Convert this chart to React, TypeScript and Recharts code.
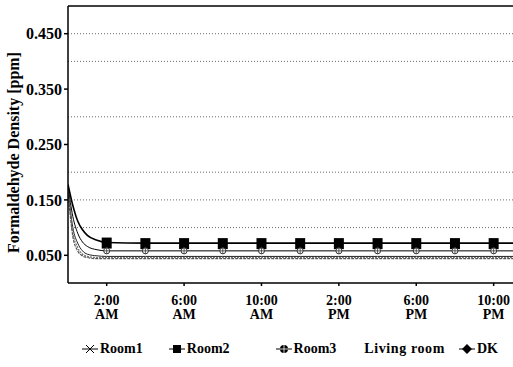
import React from "react";
import {
  LineChart,
  Line,
  XAxis,
  YAxis,
  CartesianGrid,
  ReferenceLine,
  Legend,
} from "recharts";

// hours after midnight
const hours = [0, 0.25, 0.5, 0.75, 1, 1.5, 2, 4, 6, 8, 10, 12, 14, 16, 18, 20, 22, 23];

const room1 = [0.17, 0.1, 0.072, 0.058, 0.052, 0.049, 0.048, 0.048, 0.048, 0.048, 0.048, 0.048, 0.048, 0.048, 0.048, 0.048, 0.048, 0.048];
const room2 = [0.178, 0.14, 0.112, 0.096, 0.086, 0.077, 0.073, 0.072, 0.072, 0.072, 0.072, 0.072, 0.072, 0.072, 0.072, 0.072, 0.072, 0.072];
const room3 = [0.175, 0.12, 0.09, 0.074, 0.066, 0.06, 0.058, 0.058, 0.058, 0.058, 0.058, 0.058, 0.058, 0.058, 0.058, 0.058, 0.058, 0.058];
const livingRoom = [0.168, 0.092, 0.064, 0.052, 0.048, 0.046, 0.046, 0.046, 0.046, 0.046, 0.046, 0.046, 0.046, 0.046, 0.046, 0.046, 0.046, 0.046];
const dk = [0.164, 0.084, 0.058, 0.049, 0.046, 0.044, 0.044, 0.044, 0.044, 0.044, 0.044, 0.044, 0.044, 0.044, 0.044, 0.044, 0.044, 0.044];

const markerHours = [2, 4, 6, 8, 10, 12, 14, 16, 18, 20, 22];
const xTicks = [2, 6, 10, 14, 18, 22];
const xTickLabels = [
  ["2:00", "AM"],
  ["6:00", "AM"],
  ["10:00", "AM"],
  ["2:00", "PM"],
  ["6:00", "PM"],
  ["10:00", "PM"],
];
const yTicks = [0.05, 0.15, 0.25, 0.35, 0.45];
const gridValues = [0.1, 0.15, 0.2, 0.3, 0.4, 0.45];
const legendOrder = ["Room1", "Room2", "Room3", "Living room", "DK"];

const data = hours.map((t, i) => ({
  t,
  room1: room1[i],
  room2: room2[i],
  room3: room3[i],
  living: livingRoom[i],
  dk: dk[i],
}));

const font = "'Liberation Serif', 'DejaVu Serif', serif";

const XTick = (props: any) => {
  const { x, y, payload } = props;
  const idx = xTicks.indexOf(payload.value);
  const lines = xTickLabels[idx] || ["", ""];
  return (
    <g>
      <text x={x} y={y + 17} textAnchor="middle" fontFamily={font} fontWeight="bold" fontSize={14} fill="#000">
        {lines[0]}
      </text>
      <text x={x} y={y + 31} textAnchor="middle" fontFamily={font} fontWeight="bold" fontSize={14} fill="#000">
        {lines[1]}
      </text>
    </g>
  );
};

const squareDot = (props: any) => {
  const { cx, cy, payload, index } = props;
  if (!markerHours.includes(payload.t)) return <g key={index} />;
  return <rect key={index} x={cx - 5} y={cy - 5} width={10} height={11} fill="#000" />;
};

const crossCircleDot = (props: any) => {
  const { cx, cy, payload, index } = props;
  if (!markerHours.includes(payload.t)) return <g key={index} />;
  return (
    <g key={index}>
      <circle cx={cx} cy={cy} r={3} fill="#fff" stroke="#333" strokeWidth={1} />
      <line x1={cx - 3} x2={cx + 3} y1={cy} y2={cy} stroke="#333" strokeWidth={0.8} />
      <line x1={cx} x2={cx} y1={cy - 3} y2={cy + 3} stroke="#333" strokeWidth={0.8} />
    </g>
  );
};

const LegendIcon = ({ name }: { name: string }) => {
  if (name === "Room1")
    return (
      <svg width={16} height={10}>
        <line x1={0} x2={16} y1={5} y2={5} stroke="#000" strokeWidth={1} />
        <line x1={4} x2={12} y1={1} y2={9} stroke="#000" strokeWidth={1} />
        <line x1={4} x2={12} y1={9} y2={1} stroke="#000" strokeWidth={1} />
      </svg>
    );
  if (name === "Room2")
    return (
      <svg width={16} height={10}>
        <line x1={0} x2={16} y1={5} y2={5} stroke="#000" strokeWidth={1} />
        <rect x={4} y={1} width={8} height={8} fill="#000" />
      </svg>
    );
  if (name === "Room3")
    return (
      <svg width={16} height={10}>
        <line x1={0} x2={16} y1={5} y2={5} stroke="#000" strokeWidth={1} />
        <circle cx={8} cy={5} r={4} fill="#000" />
        <line x1={4} x2={12} y1={5} y2={5} stroke="#fff" strokeWidth={0.8} />
        <line x1={8} x2={8} y1={1} y2={9} stroke="#fff" strokeWidth={0.8} />
      </svg>
    );
  if (name === "DK")
    return (
      <svg width={16} height={10}>
        <line x1={0} x2={16} y1={5} y2={5} stroke="#000" strokeWidth={1} />
        <polygon points="8,0 13,5 8,10 3,5" fill="#000" />
      </svg>
    );
  return null;
};

const legendGaps: Record<string, number> = {
  Room1: 0,
  Room2: 26,
  Room3: 46,
  "Living room": 26,
  DK: 14,
};

const renderLegend = (props: any) => {
  const payload = [...(props.payload || [])].sort(
    (a: any, b: any) => legendOrder.indexOf(a.value) - legendOrder.indexOf(b.value)
  );
  return (
    <div style={{ display: "flex", alignItems: "center", height: 24, paddingLeft: 82, fontFamily: font, fontWeight: "bold", fontSize: 14, color: "#000" }}>
      {payload.map((p: any) => (
        <div key={p.value} style={{ display: "flex", alignItems: "center", marginLeft: legendGaps[p.value] }}>
          <LegendIcon name={p.value} />
          <span style={{ marginLeft: 2, letterSpacing: p.value === "Living room" ? 0.6 : 0 }}>{p.value}</span>
        </div>
      ))}
    </div>
  );
};

const App = () => (
  <div style={{ position: "absolute", left: 0, top: 0, background: "#fff" }}>
    <LineChart width={513} height={367} data={data} margin={{ top: 6, right: 0, left: 0, bottom: 6 }}>
      <CartesianGrid
        vertical={false}
        horizontalValues={gridValues}
        stroke="#444"
        strokeDasharray="1 2"
        strokeWidth={0.8}
      />
      <ReferenceLine y={0.5} stroke="#000" strokeWidth={1.5} />
      <XAxis
        dataKey="t"
        type="number"
        domain={[0, 23]}
        ticks={xTicks}
        tick={<XTick />}
        tickSize={3}
        interval={0}
        height={54}
        stroke="#000"
        strokeWidth={1.5}
        allowDataOverflow
      />
      <YAxis
        type="number"
        domain={[0, 0.5]}
        ticks={yTicks}
        tickFormatter={(v: number) => v.toFixed(3)}
        tick={{ fontFamily: font, fontWeight: "bold", fontSize: 16, fill: "#000" }}
        tickSize={4}
        width={68}
        stroke="#000"
        strokeWidth={1.5}
        label={{
          value: "Formaldehyde Density [ppm]",
          angle: -90,
          position: "insideLeft",
          dx: 8,
          dy: 8,
          style: { fontFamily: font, fontWeight: "bold", fontSize: 16, fill: "#000", textAnchor: "middle" },
        }}
      />
      <Line dataKey="room1" name="Room1" type="monotone" stroke="#222" strokeWidth={1} dot={false} isAnimationActive={false} />
      <Line dataKey="room2" name="Room2" type="monotone" stroke="#000" strokeWidth={1.6} dot={squareDot} isAnimationActive={false} />
      <Line dataKey="room3" name="Room3" type="monotone" stroke="#000" strokeWidth={1} dot={crossCircleDot} isAnimationActive={false} />
      <Line dataKey="living" name="Living room" type="monotone" stroke="#777" strokeWidth={1.2} strokeDasharray="2 1" dot={false} isAnimationActive={false} />
      <Line dataKey="dk" name="DK" type="monotone" stroke="#555" strokeWidth={1.2} strokeDasharray="3 1" dot={false} isAnimationActive={false} />
      <Legend verticalAlign="bottom" content={renderLegend} />
    </LineChart>
  </div>
);

export default App;
